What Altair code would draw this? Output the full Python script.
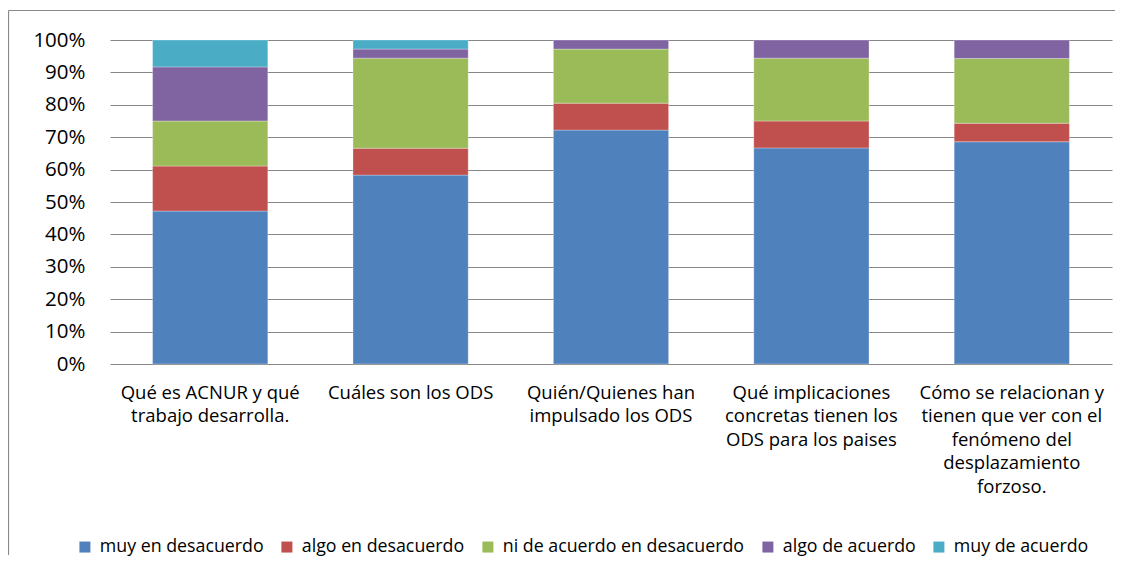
import altair as alt
import pandas as pd

categories = [
    "Qué es ACNUR y qué trabajo desarrolla.",
    "Cuáles son los ODS",
    "Quién/Quienes han impulsado los ODS",
    "Qué implicaciones concretas tienen los ODS para los paises",
    "Cómo se relacionan y tienen que ver con el fenómeno del desplazamiento forzoso.",
]
label_lines = [
    ["Qué es ACNUR y qué", "trabajo desarrolla."],
    ["Cuáles son los ODS"],
    ["Quién/Quienes han", "impulsado los ODS"],
    ["Qué implicaciones", "concretas tienen los", "ODS para los paises"],
    ["Cómo se relacionan y", "tienen que ver con el", "fenómeno del", "desplazamiento", "forzoso."],
]
series = [
    "muy en desacuerdo",
    "algo en desacuerdo",
    "ni de acuerdo en desacuerdo",
    "algo de acuerdo",
    "muy de acuerdo",
]
muy_en_desacuerdo = [47.2, 58.3, 72.2, 66.7, 68.6]
algo_en_desacuerdo = [13.9, 8.3, 8.3, 8.3, 5.7]
ni_de_acuerdo_en_desacuerdo = [13.9, 27.8, 16.7, 19.4, 20.0]
algo_de_acuerdo = [16.7, 2.8, 2.8, 5.6, 5.7]
muy_de_acuerdo = [8.3, 2.8, 0.0, 0.0, 0.0]
colors = ["#4F81BD", "#C0504D", "#9BBB59", "#8064A2", "#4BACC6"]
y_ticks = [0, 0.1, 0.2, 0.3, 0.4, 0.5, 0.6, 0.7, 0.8, 0.9, 1.0]

values_by_series = [
    muy_en_desacuerdo,
    algo_en_desacuerdo,
    ni_de_acuerdo_en_desacuerdo,
    algo_de_acuerdo,
    muy_de_acuerdo,
]
rows = []
for j, (s, vals) in enumerate(zip(series, values_by_series)):
    for c, v in zip(categories, vals):
        if v > 0:
            rows.append({"categoria": c, "serie": s, "valor": v / 100.0, "orden": j})
df = pd.DataFrame(rows)

# multi-line axis labels
expr = "''"
for c, lines in reversed(list(zip(categories, label_lines))):
    arr = "[" + ",".join("'" + l + "'" for l in lines) + "]"
    expr = f"datum.label == '{c}' ? {arr} : ({expr})"

FONT = "Open Sans"

bars = alt.Chart(df).mark_bar(stroke="white", strokeWidth=0.5, strokeOpacity=0.6).encode(
    x=alt.X(
        "categoria:N",
        sort=categories,
        scale=alt.Scale(paddingInner=0.425, paddingOuter=0.2125),
        axis=alt.Axis(
            title=None,
            labelAngle=0,
            labelExpr=expr,
            domain=False,
            ticks=False,
            labelFont=FONT,
            labelFontSize=18.5,
            labelLineHeight=23.5,
            labelPadding=19,
            labelColor="black",
            labelLimit=0,
            labelBaseline="top",
        ),
    ),
    y=alt.Y(
        "valor:Q",
        stack="normalize",
        scale=alt.Scale(domain=[0, 1]),
        axis=alt.Axis(
            title=None,
            format=".0%",
            values=y_ticks,
            domain=False,
            ticks=False,
            grid=True,
            gridColor="#868686",
            gridWidth=1.2,
            labelFont=FONT,
            labelFontSize=20.5,
            labelColor="black",
            labelPadding=25,
        ),
    ),
    color=alt.Color(
        "serie:N",
        sort=series,
        scale=alt.Scale(domain=series, range=colors),
        legend=alt.Legend(
            title=None,
            orient="none",
            direction="horizontal",
            columns=5,
            legendX=-34,
            legendY=498,
            symbolType="square",
            symbolSize=121,
            symbolStrokeWidth=0,
            labelFont=FONT,
            labelFontSize=17.8,
            labelColor="black",
            labelOffset=6,
            columnPadding=14,
            labelLimit=0,
        ),
    ),
    order=alt.Order("orden:Q", sort="ascending"),
)

frame = pd.DataFrame({"a": [0]})
border_top = alt.Chart(frame).mark_rule(color="#898989", strokeWidth=1.2).encode(
    x=alt.value(-101.5), x2=alt.value(1005), y=alt.value(-29.5)
)
border_left = alt.Chart(frame).mark_rule(color="#898989", strokeWidth=1.2).encode(
    x=alt.value(-101.5), y=alt.value(-29.5), y2=alt.value(515)
)

chart = alt.layer(border_top, border_left, bars).properties(
    width=1002,
    height=324,
    padding={"left": 102, "top": 32, "right": 12, "bottom": 202},
    autosize=alt.AutoSizeParams(type="none"),
).configure_view(strokeWidth=0)

chart.save("out.html", embed_options={"renderer": "svg", "actions": False})
